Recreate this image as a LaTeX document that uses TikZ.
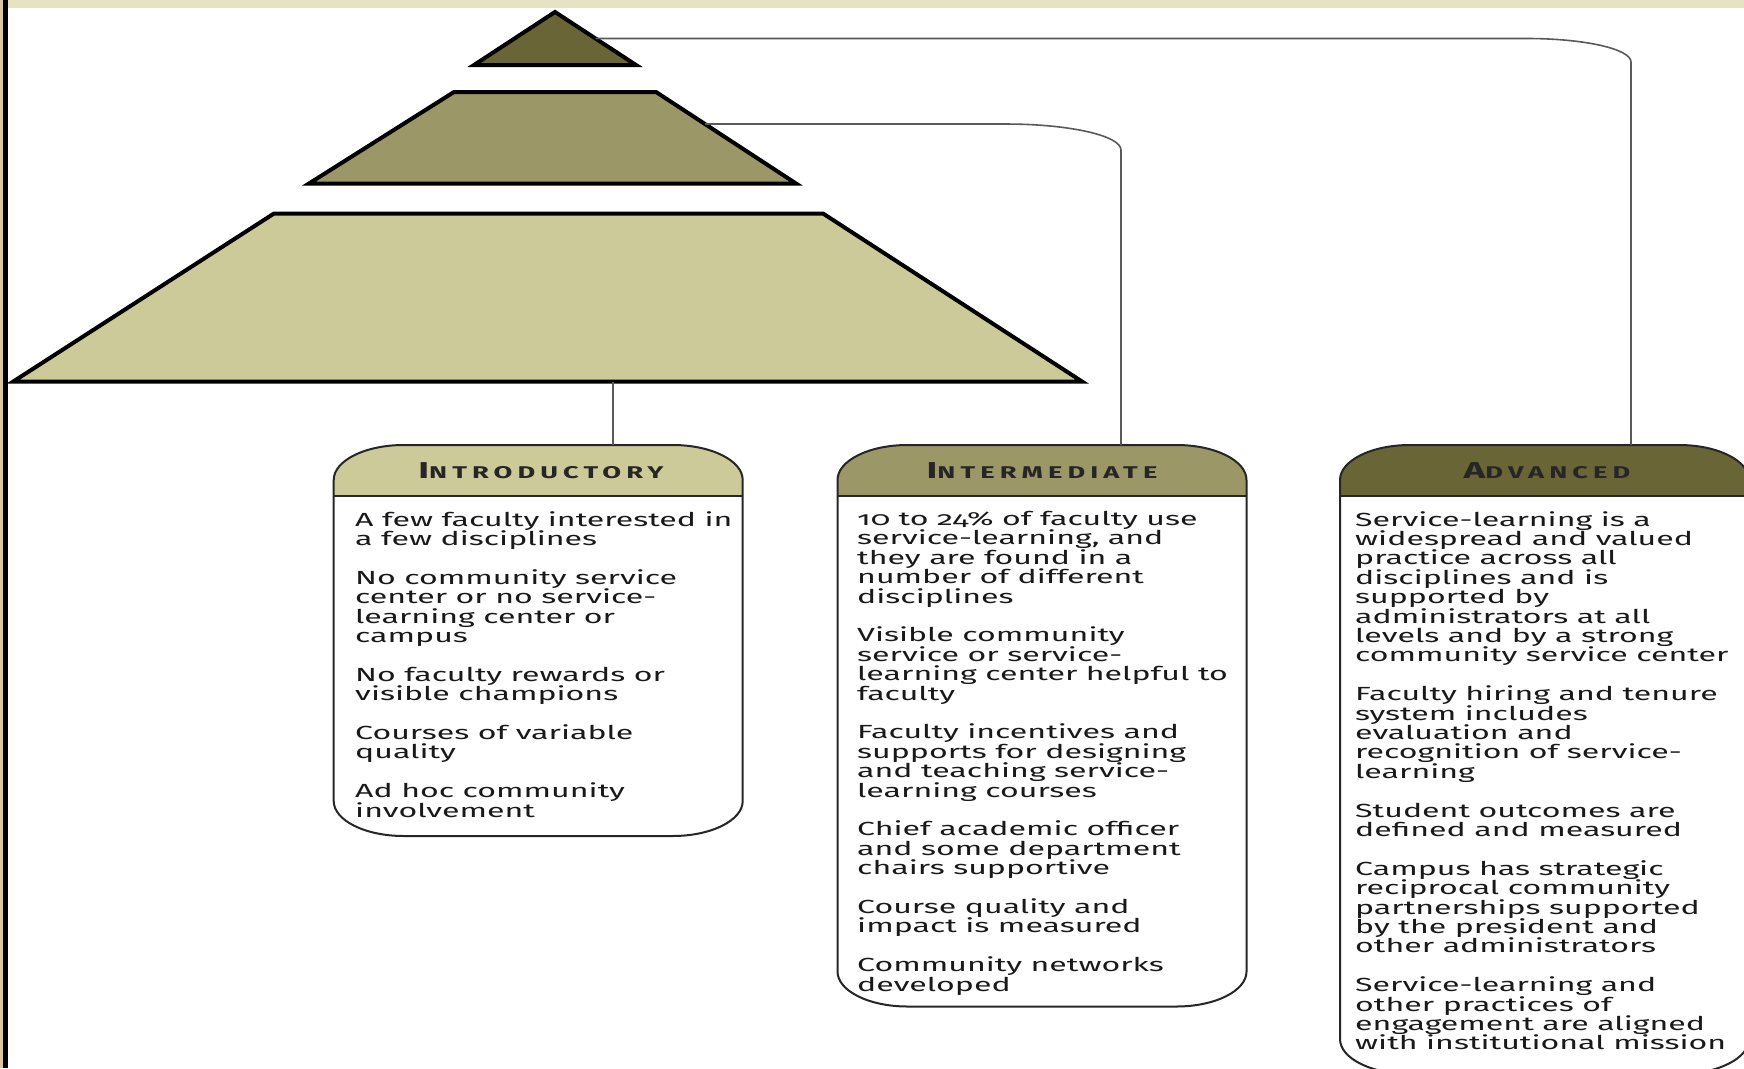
\documentclass[tikz,border=0pt]{standalone}
\usepackage{fontspec}
\setmainfont{Fira Sans}
\newfontfamily\bodyfont[FakeStretch=1.69,Numbers=OldStyle]{Fira Sans}
\newfontfamily\headfont[FakeStretch=1.6,LetterSpace=30]{Fira Sans}
\usetikzlibrary{calc}

\definecolor{darkolive}{RGB}{105,101,54}
\definecolor{midolive}{RGB}{155,151,103}
\definecolor{paleolive}{RGB}{205,202,154}
\definecolor{parchment}{RGB}{232,226,196}

\tikzset{
  tier/.style={draw=black, line width=4pt, line join=miter},
  link/.style={draw=black!65, line width=1.6pt},
  boxline/.style={draw=black!85, line width=2pt},
  bodytext/.style={anchor=north west, inner sep=0pt, align=left,
    font=\bodyfont\fontsize{19}{19.4}\selectfont, text=black!90},
  headtext/.style={inner sep=0pt, font=\headfont\bfseries, text=black!85}
}

\newcommand{\sclabel}[2]{{\fontsize{23}{23}\selectfont #1}{\fontsize{17}{17}\selectfont #2}}
\newcommand{\blankline}{\\[19.4pt]}

% #1 left edge, #2 bottom edge, #3 header colour
\newcommand{\stagebox}[3]{%
  \fill[#3] (#1,-496) -- (#1,-480) arc[start angle=180,end angle=90,x radius=70,y radius=35]
    -- (#1+339,-445) arc[start angle=90,end angle=0,x radius=70,y radius=35]
    -- (#1+409,-496) -- cycle;
  \draw[boxline] (#1,-480) arc[start angle=180,end angle=90,x radius=70,y radius=35]
    -- (#1+339,-445) arc[start angle=90,end angle=0,x radius=70,y radius=35]
    -- (#1+409,#2+35) arc[start angle=0,end angle=-90,x radius=70,y radius=35]
    -- (#1+70,#2) arc[start angle=270,end angle=180,x radius=70,y radius=35] -- cycle;
  \draw[boxline] (#1,-496) -- (#1+409,-496);
}

\begin{document}
\begin{tikzpicture}[x=1pt,y=1pt]

  \clip (0,0) rectangle (1744,-1068);
  \fill[white] (0,0) rectangle (1744,-1068);

  % frame
  \fill[parchment] (0,0) rectangle (1744,-7.5);
  \fill[parchment!70!brown] (0,0) rectangle (3,-1068);
  \fill[black] (3,0) rectangle (7.5,-1068);

  % pyramid
  \coordinate (t-apex)  at (555,-12);
  \coordinate (t-left)  at (474,-65);
  \coordinate (t-right) at (636,-65);

  \coordinate (m-tl) at (454,-92);
  \coordinate (m-tr) at (656,-92);
  \coordinate (m-br) at (796,-183.5);
  \coordinate (m-bl) at (309,-183.5);

  \coordinate (b-tl) at (274,-213.5);
  \coordinate (b-tr) at (823,-213.5);
  \coordinate (b-br) at (1082,-381.5);
  \coordinate (b-bl) at (13.3,-381.5);

  \filldraw[tier, fill=darkolive] (t-apex) -- (t-right) -- (t-left) -- cycle;
  \filldraw[tier, fill=midolive] (m-tl) -- (m-tr) -- (m-br) -- (m-bl) -- cycle;
  \filldraw[tier, fill=paleolive] (b-tl) -- (b-tr) -- (b-br) -- (b-bl) -- cycle;

  % boxes
  \stagebox{333.7}{-836}{paleolive}
  \stagebox{837.5}{-1006.5}{midolive}
  \stagebox{1340}{-1074}{darkolive}

  \node[headtext] (intro-head) at (541,-471)    {\sclabel{I}{NTRODUCTORY}};
  \node[headtext] (inter-head) at (1042,-471)   {\sclabel{I}{NTERMEDIATE}};
  \node[headtext] (adv-head)   at (1547,-471)   {\sclabel{A}{DVANCED}};

  \node[bodytext] (intro-text) at (355,-511) {%
    A few faculty interested in\\
    a few disciplines\blankline
    No community service\\
    center or no service-\\
    learning center or\\
    campus\blankline
    No faculty rewards or\\
    visible champions\blankline
    Courses of variable\\
    quality\blankline
    Ad hoc community\\
    involvement};

  \node[bodytext] (inter-text) at (857,-511) {%
    10 to 24\% of faculty use\\
    service-learning, and\\
    they are found in a\\
    number of different\\
    disciplines\blankline
    Visible community\\
    service or service-\\
    learning center helpful to\\
    faculty\blankline
    Faculty incentives and\\
    supports for designing\\
    and teaching service-\\
    learning courses\blankline
    Chief academic officer\\
    and some department\\
    chairs supportive\blankline
    Course quality and\\
    impact is measured\blankline
    Community networks\\
    developed};

  \node[bodytext] (adv-text) at (1355,-511) {%
    Service-learning is a\\
    widespread and valued\\
    practice across all\\
    disciplines and is\\
    supported by\\
    administrators at all\\
    levels and by a strong\\
    community service center\blankline
    Faculty hiring and tenure\\
    system includes\\
    evaluation and\\
    recognition of service-\\
    learning\blankline
    Student outcomes are\\
    defined and measured\blankline
    Campus has strategic\\
    reciprocal community\\
    partnerships supported\\
    by the president and\\
    other administrators\blankline
    Service-learning and\\
    other practices of\\
    engagement are aligned\\
    with institutional mission};

  % Links
  \coordinate (top-link)   at ($(t-apex)!0.5!(t-right)$);
  \coordinate (mid-link)   at ($(m-tr)!0.35!(m-br)$);
  \coordinate (base-link)  at (613,-381.5);
  \coordinate (adv-link)   at (1631,-445);
  \coordinate (inter-link) at (1121,-445);
  \coordinate (intro-link) at (613,-445);

  \draw[link] (top-link) -- ($(adv-link |- top-link)+(-104,0)$)
    arc[start angle=90,end angle=0,x radius=104,y radius=23.5] -- (adv-link);
  \draw[link] (mid-link) -- ($(inter-link |- mid-link)+(-115,0)$)
    arc[start angle=90,end angle=0,x radius=115,y radius=26] -- (inter-link);
  \draw[link] (base-link) -- (intro-link);

\end{tikzpicture}
\end{document}
